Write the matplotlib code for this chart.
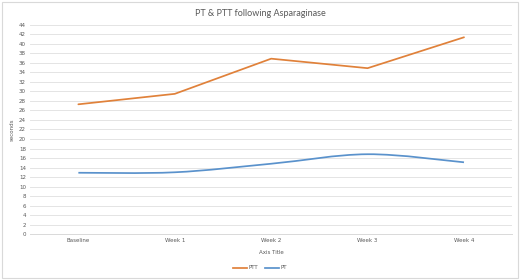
import matplotlib.pyplot as plt
import numpy as np
from matplotlib.path import Path
from matplotlib.patches import PathPatch, Rectangle
from matplotlib.lines import Line2D

# Data
weeks = ['Baseline', 'Week 1', 'Week 2', 'Week 3', 'Week 4']
ptt = [27.3, 29.5, 36.9, 34.9, 41.4]
pt = [12.9, 13.0, 14.8, 16.8, 15.1]
y_ticks = list(range(0, 46, 2))

orange = '#E0813A'
blue = '#5A92CC'
grey_txt = '#595959'


def smooth_path(xs, ys):
    # Excel-like smoothed line: Catmull-Rom through the points as cubic Beziers
    xs = np.asarray(xs, float)
    ys = np.asarray(ys, float)
    pts = np.column_stack([xs, ys])
    verts = [pts[0]]
    codes = [Path.MOVETO]
    n = len(pts)
    for i in range(n - 1):
        p0 = pts[i - 1] if i > 0 else pts[i]
        p1 = pts[i]
        p2 = pts[i + 1]
        p3 = pts[i + 2] if i + 2 < n else pts[i + 1]
        c1 = p1 + (p2 - p0) / 6.0
        c2 = p2 - (p3 - p1) / 6.0
        verts += [c1, c2, p2]
        codes += [Path.CURVE4] * 3
    return Path(verts, codes)


fig = plt.figure(figsize=(5.2, 2.8), dpi=100)
fig.patches.append(Rectangle((0.004, 0.007), 0.992, 0.986, transform=fig.transFigure,
                             fill=False, edgecolor='#d9d9d9', linewidth=0.8))

ax = fig.add_axes([0.058, 0.164, 0.927, 0.747])
x = np.arange(len(weeks))

ax.plot(x, ptt, color=orange, linewidth=1.25, solid_capstyle='round')
ax.add_patch(PathPatch(smooth_path(x, pt), fill=False, edgecolor=blue, linewidth=1.25))

ax.set_xlim(-0.5, len(weeks) - 0.5)
ax.set_ylim(0, 44)
ax.set_yticks(y_ticks)
ax.set_yticklabels([str(v) for v in y_ticks], fontsize=4, color=grey_txt)
ax.set_xticks(x)
ax.set_xticklabels(weeks, fontsize=4, color=grey_txt)
ax.tick_params(length=0, pad=3)
ax.grid(axis='y', color='#e4e4e4', linewidth=0.7)
ax.set_axisbelow(True)
for s in ['top', 'right', 'left']:
    ax.spines[s].set_visible(False)
ax.spines['bottom'].set_color('#d9d9d9')
ax.spines['bottom'].set_linewidth(0.7)

ax.set_ylabel('seconds', fontsize=4, color=grey_txt, labelpad=3)
ax.set_xlabel('Axis Title', fontsize=4, color=grey_txt, labelpad=5)
fig.text(0.5, 0.953, 'PT & PTT following Asparaginase', ha='center', va='center',
         fontsize=6.5, color=grey_txt, family='Lato')

handles = [Line2D([], [], color=orange, linewidth=1.25),
           Line2D([], [], color=blue, linewidth=1.25)]
fig.legend(handles, ['PTT', 'PT'], loc='center', bbox_to_anchor=(0.5, 0.043), ncol=2,
           frameon=False, fontsize=4, handlelength=2.5, handletextpad=0.3,
           columnspacing=1.2, labelcolor=grey_txt)

fig.savefig('out.png', dpi=100)
